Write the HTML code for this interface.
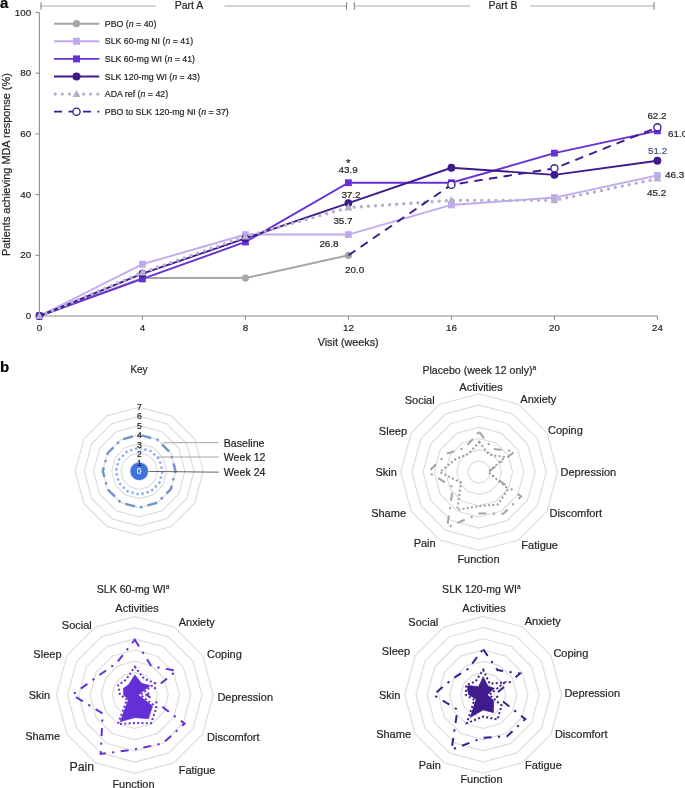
<!DOCTYPE html>
<html><head><meta charset="utf-8"><style>
html,body{margin:0;padding:0;background:#fff;}
body{width:685px;height:788px;overflow:hidden;}
svg{display:block;font-family:"Liberation Sans", sans-serif;will-change:transform;}
</style></head><body>
<svg width="685" height="788" viewBox="0 0 685 788">
<text x="0" y="7.6" font-size="15" font-weight="bold" fill="#000" stroke="#000" stroke-width="0.2">a</text>
<text x="0" y="372" font-size="15" font-weight="bold" fill="#000" stroke="#000" stroke-width="0.2">b</text>
<g stroke="#aaaaaa" stroke-width="1.1" fill="none"><line x1="41" y1="6" x2="155.6" y2="6"/><line x1="224.6" y1="6" x2="346.6" y2="6"/><line x1="354.3" y1="6" x2="470.3" y2="6"/><line x1="530.3" y1="6" x2="654" y2="6"/></g>
<g stroke="#777" stroke-width="1" fill="none"><line x1="41" y1="2.3" x2="41" y2="9.6"/><line x1="346.6" y1="2.3" x2="346.6" y2="9.6"/><line x1="354.3" y1="2.3" x2="354.3" y2="9.6"/><line x1="654" y1="2.3" x2="654" y2="9.6"/></g>
<text x="189" y="9.3" font-size="10.5" text-anchor="middle" fill="#231f20" stroke="#231f20" stroke-width="0.2">Part A</text>
<text x="503" y="9.3" font-size="10.5" text-anchor="middle" fill="#231f20" stroke="#231f20" stroke-width="0.2">Part B</text>
<g stroke="#878787" stroke-width="1" fill="none">
<path d="M35.5 12.50 H39.4 V316.0 H657.40"/>
<line x1="35.5" y1="316.00" x2="39.4" y2="316.00"/>
<line x1="35.5" y1="255.30" x2="39.4" y2="255.30"/>
<line x1="35.5" y1="194.60" x2="39.4" y2="194.60"/>
<line x1="35.5" y1="133.90" x2="39.4" y2="133.90"/>
<line x1="35.5" y1="73.20" x2="39.4" y2="73.20"/>
<line x1="39.40" y1="316.0" x2="39.40" y2="319.8"/>
<line x1="142.40" y1="316.0" x2="142.40" y2="319.8"/>
<line x1="245.40" y1="316.0" x2="245.40" y2="319.8"/>
<line x1="348.40" y1="316.0" x2="348.40" y2="319.8"/>
<line x1="451.40" y1="316.0" x2="451.40" y2="319.8"/>
<line x1="554.40" y1="316.0" x2="554.40" y2="319.8"/>
<line x1="657.40" y1="316.0" x2="657.40" y2="319.8"/>
</g>
<text x="31.2" y="319.10" font-size="9.8" text-anchor="end" fill="#231f20" stroke="#231f20" stroke-width="0.2">0</text>
<text x="31.2" y="258.40" font-size="9.8" text-anchor="end" fill="#231f20" stroke="#231f20" stroke-width="0.2">20</text>
<text x="31.2" y="197.70" font-size="9.8" text-anchor="end" fill="#231f20" stroke="#231f20" stroke-width="0.2">40</text>
<text x="31.2" y="137.00" font-size="9.8" text-anchor="end" fill="#231f20" stroke="#231f20" stroke-width="0.2">60</text>
<text x="31.2" y="76.30" font-size="9.8" text-anchor="end" fill="#231f20" stroke="#231f20" stroke-width="0.2">80</text>
<text x="31.2" y="15.60" font-size="9.8" text-anchor="end" fill="#231f20" stroke="#231f20" stroke-width="0.2">100</text>
<text x="39.40" y="331.2" font-size="9.8" text-anchor="middle" fill="#231f20" stroke="#231f20" stroke-width="0.2">0</text>
<text x="142.40" y="331.2" font-size="9.8" text-anchor="middle" fill="#231f20" stroke="#231f20" stroke-width="0.2">4</text>
<text x="245.40" y="331.2" font-size="9.8" text-anchor="middle" fill="#231f20" stroke="#231f20" stroke-width="0.2">8</text>
<text x="348.40" y="331.2" font-size="9.8" text-anchor="middle" fill="#231f20" stroke="#231f20" stroke-width="0.2">12</text>
<text x="451.40" y="331.2" font-size="9.8" text-anchor="middle" fill="#231f20" stroke="#231f20" stroke-width="0.2">16</text>
<text x="554.40" y="331.2" font-size="9.8" text-anchor="middle" fill="#231f20" stroke="#231f20" stroke-width="0.2">20</text>
<text x="657.40" y="331.2" font-size="9.8" text-anchor="middle" fill="#231f20" stroke="#231f20" stroke-width="0.2">24</text>
<text x="348.2" y="345.9" font-size="10.8" text-anchor="middle" fill="#231f20" stroke="#231f20" stroke-width="0.2">Visit (weeks)</text>
<text transform="translate(9.5 164.6) rotate(-90)" font-size="10.9" text-anchor="middle" fill="#231f20" stroke="#231f20" stroke-width="0.2">Patients achieving MDA response (%)</text>
<polyline points="39.40,316.00 142.40,278.06 245.40,278.06 348.40,255.30" fill="none" stroke="#a9a5a5" stroke-width="1.9"/>
<circle cx="39.40" cy="316.00" r="3.6" fill="#a9a5a5"/>
<circle cx="142.40" cy="278.06" r="3.6" fill="#a9a5a5"/>
<circle cx="245.40" cy="278.06" r="3.6" fill="#a9a5a5"/>
<circle cx="348.40" cy="255.30" r="3.6" fill="#a9a5a5"/>
<polyline points="39.40,316.00 142.40,264.19 245.40,234.57 348.40,234.57 451.40,204.95 554.40,197.57 657.40,175.36" fill="none" stroke="#c1a9f0" stroke-width="1.9"/>
<rect x="36.00" y="312.60" width="6.8" height="6.8" fill="#c1a9f0"/>
<rect x="139.00" y="260.79" width="6.8" height="6.8" fill="#c1a9f0"/>
<rect x="242.00" y="231.17" width="6.8" height="6.8" fill="#c1a9f0"/>
<rect x="345.00" y="231.17" width="6.8" height="6.8" fill="#c1a9f0"/>
<rect x="448.00" y="201.55" width="6.8" height="6.8" fill="#c1a9f0"/>
<rect x="551.00" y="194.17" width="6.8" height="6.8" fill="#c1a9f0"/>
<rect x="654.00" y="171.96" width="6.8" height="6.8" fill="#c1a9f0"/>
<polyline points="39.40,316.00 142.40,278.97 245.40,241.98 348.40,182.76 451.40,182.76 554.40,153.14 657.40,130.93" fill="none" stroke="#6730d6" stroke-width="1.9"/>
<rect x="36.00" y="312.60" width="6.8" height="6.8" fill="#6730d6"/>
<rect x="139.00" y="275.57" width="6.8" height="6.8" fill="#6730d6"/>
<rect x="242.00" y="238.58" width="6.8" height="6.8" fill="#6730d6"/>
<rect x="345.00" y="179.36" width="6.8" height="6.8" fill="#6730d6"/>
<rect x="448.00" y="179.36" width="6.8" height="6.8" fill="#6730d6"/>
<rect x="551.00" y="149.74" width="6.8" height="6.8" fill="#6730d6"/>
<rect x="654.00" y="127.53" width="6.8" height="6.8" fill="#6730d6"/>
<polyline points="39.40,316.00 142.40,273.66 245.40,238.36 348.40,203.07 451.40,167.77 554.40,174.84 657.40,160.73" fill="none" stroke="#3e1a8e" stroke-width="1.9"/>
<circle cx="39.40" cy="316.00" r="3.9" fill="#3e1a8e"/>
<circle cx="142.40" cy="273.66" r="3.9" fill="#3e1a8e"/>
<circle cx="245.40" cy="238.36" r="3.9" fill="#3e1a8e"/>
<circle cx="348.40" cy="203.07" r="3.9" fill="#3e1a8e"/>
<circle cx="451.40" cy="167.77" r="3.9" fill="#3e1a8e"/>
<circle cx="554.40" cy="174.84" r="3.9" fill="#3e1a8e"/>
<circle cx="657.40" cy="160.73" r="3.9" fill="#3e1a8e"/>
<polyline points="39.40,316.00 142.40,272.63 245.40,236.51 348.40,207.62 451.40,200.37 554.40,200.37 657.40,178.70" fill="none" stroke="#b4b0cd" stroke-width="3.4" stroke-linecap="round" stroke-dasharray="0 7.1"/>
<path d="M39.40 311.68 L43.40 318.88 L35.40 318.88Z" fill="#b4b0cd"/>
<path d="M142.40 268.31 L146.40 275.51 L138.40 275.51Z" fill="#b4b0cd"/>
<path d="M245.40 232.19 L249.40 239.39 L241.40 239.39Z" fill="#b4b0cd"/>
<path d="M348.40 203.30 L352.40 210.50 L344.40 210.50Z" fill="#b4b0cd"/>
<path d="M451.40 196.05 L455.40 203.25 L447.40 203.25Z" fill="#b4b0cd"/>
<path d="M554.40 196.05 L558.40 203.25 L550.40 203.25Z" fill="#b4b0cd"/>
<path d="M657.40 174.38 L661.40 181.58 L653.40 181.58Z" fill="#b4b0cd"/>
<polyline points="348.40,255.30 451.40,184.77 554.40,168.35 657.40,127.34" fill="none" stroke="#3e1a8e" stroke-width="1.9" stroke-dasharray="8.5 6.3"/>
<circle cx="451.40" cy="184.77" r="3.6" fill="#fff" stroke="#3e1a8e" stroke-width="1.3"/>
<circle cx="554.40" cy="168.35" r="3.6" fill="#fff" stroke="#3e1a8e" stroke-width="1.3"/>
<circle cx="657.40" cy="127.34" r="3.6" fill="#fff" stroke="#3e1a8e" stroke-width="1.3"/>
<text x="348.2" y="166.5" font-size="11.5" text-anchor="middle" fill="#231f20" stroke="#231f20" stroke-width="0.2">*</text>
<text x="348.2" y="173.0" font-size="9.9" text-anchor="middle" fill="#231f20" stroke="#231f20" stroke-width="0.2">43.9</text>
<text x="351" y="197.5" font-size="9.9" text-anchor="middle" fill="#231f20" stroke="#231f20" stroke-width="0.2">37.2</text>
<text x="343" y="223.8" font-size="9.9" text-anchor="middle" fill="#231f20" stroke="#231f20" stroke-width="0.2">35.7</text>
<text x="329" y="247.1" font-size="9.9" text-anchor="middle" fill="#231f20" stroke="#231f20" stroke-width="0.2">26.8</text>
<text x="354.6" y="273.4" font-size="9.9" text-anchor="middle" fill="#231f20" stroke="#231f20" stroke-width="0.2">20.0</text>
<text x="657" y="118.8" font-size="9.9" text-anchor="middle" fill="#231f20" stroke="#231f20" stroke-width="0.2">62.2</text>
<text x="668" y="136.7" font-size="9.9" text-anchor="start" fill="#231f20" stroke="#231f20" stroke-width="0.2">61.0</text>
<text x="657.6" y="154.2" font-size="9.9" text-anchor="middle" fill="#465579" stroke="#465579" stroke-width="0.2">51.2</text>
<text x="665" y="177.8" font-size="9.9" text-anchor="start" fill="#231f20" stroke="#231f20" stroke-width="0.2">46.3</text>
<text x="656.6" y="195.9" font-size="9.9" text-anchor="middle" fill="#231f20" stroke="#231f20" stroke-width="0.2">45.2</text>
<line x1="54" y1="23.7" x2="99.3" y2="23.7" stroke="#a9a5a5" stroke-width="1.9"/><circle cx="76.50" cy="23.70" r="3.6" fill="#a9a5a5"/>
<line x1="54" y1="41.3" x2="99.3" y2="41.3" stroke="#c1a9f0" stroke-width="1.9"/><rect x="73.00" y="37.80" width="7" height="7" fill="#c1a9f0"/>
<line x1="54" y1="58.9" x2="99.3" y2="58.9" stroke="#6730d6" stroke-width="1.9"/><rect x="73.00" y="55.40" width="7" height="7" fill="#6730d6"/>
<line x1="54" y1="76.5" x2="99.3" y2="76.5" stroke="#3e1a8e" stroke-width="1.9"/><circle cx="76.50" cy="76.50" r="4" fill="#3e1a8e"/>
<line x1="55.2" y1="94.1" x2="99.3" y2="94.1" stroke="#b4b0cd" stroke-width="3.4" stroke-linecap="round" stroke-dasharray="0 7.1"/><path d="M76.50 89.78 L80.50 96.98 L72.50 96.98Z" fill="#b4b0cd"/>
<line x1="54" y1="111.7" x2="99.3" y2="111.7" stroke="#3e1a8e" stroke-width="1.8" stroke-dasharray="8 6.5"/><circle cx="76.50" cy="111.70" r="3.6" fill="#fff" stroke="#3e1a8e" stroke-width="1.3"/>
<text x="104.8" y="26.80" font-size="8.8" fill="#231f20" stroke="#231f20" stroke-width="0.2">PBO (<tspan font-style="italic">n</tspan> = 40)</text>
<text x="104.8" y="44.40" font-size="8.8" fill="#231f20" stroke="#231f20" stroke-width="0.2">SLK 60-mg NI (<tspan font-style="italic">n</tspan> = 41)</text>
<text x="104.8" y="62.00" font-size="8.8" fill="#231f20" stroke="#231f20" stroke-width="0.2">SLK 60-mg WI (<tspan font-style="italic">n</tspan> = 41)</text>
<text x="104.8" y="79.60" font-size="8.8" fill="#231f20" stroke="#231f20" stroke-width="0.2">SLK 120-mg WI (<tspan font-style="italic">n</tspan> = 43)</text>
<text x="104.8" y="97.20" font-size="8.8" fill="#231f20" stroke="#231f20" stroke-width="0.2">ADA ref (<tspan font-style="italic">n</tspan> = 42)</text>
<text x="104.8" y="114.80" font-size="8.8" fill="#231f20" stroke="#231f20" stroke-width="0.2">PBO to SLK 120-mg NI (<tspan font-style="italic">n</tspan> = 37)</text>
<text x="139" y="373" font-size="10" text-anchor="middle" fill="#231f20" stroke="#231f20" stroke-width="0.2">Key</text>
<g fill="none" stroke="#d9d9d9" stroke-width="1.05"><polygon points="139.20,462.06 143.77,463.28 147.12,466.63 148.34,471.20 147.12,475.77 143.77,479.12 139.20,480.34 134.63,479.12 131.28,475.77 130.06,471.20 131.28,466.63 134.63,463.28"/><polygon points="139.20,452.92 148.34,455.37 155.03,462.06 157.48,471.20 155.03,480.34 148.34,487.03 139.20,489.48 130.06,487.03 123.37,480.34 120.92,471.20 123.37,462.06 130.06,455.37"/><polygon points="139.20,443.78 152.91,447.45 162.95,457.49 166.62,471.20 162.95,484.91 152.91,494.95 139.20,498.62 125.49,494.95 115.45,484.91 111.78,471.20 115.45,457.49 125.49,447.45"/><polygon points="139.20,434.64 157.48,439.54 170.86,452.92 175.76,471.20 170.86,489.48 157.48,502.86 139.20,507.76 120.92,502.86 107.54,489.48 102.64,471.20 107.54,452.92 120.92,439.54"/><polygon points="139.20,425.50 162.05,431.62 178.78,448.35 184.90,471.20 178.78,494.05 162.05,510.78 139.20,516.90 116.35,510.78 99.62,494.05 93.50,471.20 99.62,448.35 116.35,431.62"/><polygon points="139.20,416.36 166.62,423.71 186.69,443.78 194.04,471.20 186.69,498.62 166.62,518.69 139.20,526.04 111.78,518.69 91.71,498.62 84.36,471.20 91.71,443.78 111.78,423.71"/><polygon points="139.20,407.22 171.19,415.79 194.61,439.21 203.18,471.20 194.61,503.19 171.19,526.61 139.20,535.18 107.21,526.61 83.79,503.19 75.22,471.20 83.79,439.21 107.21,415.79"/></g>
<polygon points="139.20,434.82 157.39,439.70 170.70,453.01 175.58,471.20 170.70,489.39 157.39,502.70 139.20,507.58 121.01,502.70 107.70,489.39 102.82,471.20 107.70,453.01 121.01,439.70" fill="none" stroke="#7391cf" stroke-width="2.4" stroke-dasharray="10 5.3 2.4 5.3" stroke-dashoffset="20.6"/>
<polygon points="139.20,447.89 150.85,451.02 159.38,459.55 162.51,471.20 159.38,482.85 150.85,491.38 139.20,494.51 127.55,491.38 119.02,482.85 115.89,471.20 119.02,459.55 127.55,451.02" fill="none" stroke="#8db0f2" stroke-width="2.5" stroke-dasharray="2.5 2.7"/>
<circle cx="139.2" cy="471.2" r="8.8" fill="#3d72df"/>
<text x="139.5" y="466.20" font-size="8.6" text-anchor="middle" fill="#222" stroke="#222" stroke-width="0.2">1</text>
<text x="139.5" y="456.85" font-size="8.6" text-anchor="middle" fill="#222" stroke="#222" stroke-width="0.2">2</text>
<text x="139.5" y="447.50" font-size="8.6" text-anchor="middle" fill="#222" stroke="#222" stroke-width="0.2">3</text>
<text x="139.5" y="438.15" font-size="8.6" text-anchor="middle" fill="#222" stroke="#222" stroke-width="0.2">4</text>
<text x="139.5" y="428.80" font-size="8.6" text-anchor="middle" fill="#222" stroke="#222" stroke-width="0.2">5</text>
<text x="139.5" y="419.45" font-size="8.6" text-anchor="middle" fill="#222" stroke="#222" stroke-width="0.2">6</text>
<text x="139.5" y="410.10" font-size="8.6" text-anchor="middle" fill="#222" stroke="#222" stroke-width="0.2">7</text>
<text x="139.2" y="474.20" font-size="8.4" text-anchor="middle" fill="#fff" stroke="#fff" stroke-width="0.2">0</text>
<g stroke-width="0.9"><line x1="163.1" y1="442.7" x2="218.7" y2="442.7" stroke="#9a9a9a"/><line x1="157.4" y1="457" x2="218.7" y2="457" stroke="#9a9a9a"/><line x1="148.6" y1="471.4" x2="218.7" y2="472.2" stroke="#555"/></g>
<text x="223.8" y="446.8" font-size="10.6" text-anchor="start" fill="#231f20" stroke="#231f20" stroke-width="0.2">Baseline</text>
<text x="223.8" y="460.9" font-size="10.6" text-anchor="start" fill="#231f20" stroke="#231f20" stroke-width="0.2">Week 12</text>
<text x="223.8" y="475.8" font-size="10.6" text-anchor="start" fill="#231f20" stroke="#231f20" stroke-width="0.2">Week 24</text>
<text x="479.3" y="373.8" font-size="10.6" text-anchor="middle" fill="#231f20" stroke="#231f20" stroke-width="0.2">Placebo (week 12 only)<tspan font-size="6.5" dy="-4">a</tspan></text>
<g fill="none" stroke="#d9d9d9" stroke-width="1.05"><polygon points="479.10,460.90 484.70,462.40 488.80,466.50 490.30,472.10 488.80,477.70 484.70,481.80 479.10,483.30 473.50,481.80 469.40,477.70 467.90,472.10 469.40,466.50 473.50,462.40"/><polygon points="479.10,449.70 490.30,452.70 498.50,460.90 501.50,472.10 498.50,483.30 490.30,491.50 479.10,494.50 467.90,491.50 459.70,483.30 456.70,472.10 459.70,460.90 467.90,452.70"/><polygon points="479.10,438.50 495.90,443.00 508.20,455.30 512.70,472.10 508.20,488.90 495.90,501.20 479.10,505.70 462.30,501.20 450.00,488.90 445.50,472.10 450.00,455.30 462.30,443.00"/><polygon points="479.10,427.30 501.50,433.30 517.90,449.70 523.90,472.10 517.90,494.50 501.50,510.90 479.10,516.90 456.70,510.90 440.30,494.50 434.30,472.10 440.30,449.70 456.70,433.30"/><polygon points="479.10,416.10 507.10,423.60 527.60,444.10 535.10,472.10 527.60,500.10 507.10,520.60 479.10,528.10 451.10,520.60 430.60,500.10 423.10,472.10 430.60,444.10 451.10,423.60"/><polygon points="479.10,404.90 512.70,413.90 537.30,438.50 546.30,472.10 537.30,505.70 512.70,530.30 479.10,539.30 445.50,530.30 420.90,505.70 411.90,472.10 420.90,438.50 445.50,413.90"/><polygon points="479.10,393.70 518.30,404.20 547.00,432.90 557.50,472.10 547.00,511.30 518.30,540.00 479.10,550.50 439.90,540.00 411.20,511.30 400.70,472.10 411.20,432.90 439.90,404.20"/></g>
<polygon points="479.10,431.78 492.54,448.82 514.99,451.38 488.06,472.10 521.10,496.35 503.18,513.81 479.10,513.54 447.18,527.39 452.91,487.22 428.14,472.10 446.99,453.56 465.04,447.75" fill="none" stroke="#a3a3a3" stroke-width="2" stroke-dasharray="8 6.4 2.2 6.4"/>
<polygon points="479.10,441.86 489.18,454.64 505.09,457.09 488.28,472.10 508.20,488.90 497.80,504.50 479.10,506.04 457.26,509.93 460.96,482.57 439.90,472.10 456.11,458.83 468.63,453.96" fill="none" stroke="#9d9d9d" stroke-width="2" stroke-dasharray="2 2.3"/>
<text x="481.0" y="390.8" font-size="11" text-anchor="middle" fill="#231f20" stroke="#231f20" stroke-width="0.2">Activities</text>
<text x="520.3" y="402.8" font-size="11" text-anchor="start" fill="#231f20" stroke="#231f20" stroke-width="0.2">Anxiety</text>
<text x="548.0" y="433.6" font-size="11" text-anchor="start" fill="#231f20" stroke="#231f20" stroke-width="0.2">Coping</text>
<text x="560.5" y="476.4" font-size="11" text-anchor="start" fill="#231f20" stroke="#231f20" stroke-width="0.2">Depression</text>
<text x="549.5" y="516.6" font-size="11" text-anchor="start" fill="#231f20" stroke="#231f20" stroke-width="0.2">Discomfort</text>
<text x="521.3" y="549.4" font-size="11" text-anchor="start" fill="#231f20" stroke="#231f20" stroke-width="0.2">Fatigue</text>
<text x="478.5" y="563.0" font-size="11" text-anchor="middle" fill="#231f20" stroke="#231f20" stroke-width="0.2">Function</text>
<text x="435.7" y="546.8" font-size="11" text-anchor="end" fill="#231f20" stroke="#231f20" stroke-width="0.2">Pain</text>
<text x="406.0" y="516.6" font-size="11" text-anchor="end" fill="#231f20" stroke="#231f20" stroke-width="0.2">Shame</text>
<text x="396.9" y="476.4" font-size="11" text-anchor="end" fill="#231f20" stroke="#231f20" stroke-width="0.2">Skin</text>
<text x="407.0" y="434.6" font-size="11" text-anchor="end" fill="#231f20" stroke="#231f20" stroke-width="0.2">Sleep</text>
<text x="434.7" y="404.4" font-size="11" text-anchor="end" fill="#231f20" stroke="#231f20" stroke-width="0.2">Social</text>
<text x="133" y="592.7" font-size="10.6" text-anchor="middle" fill="#231f20" stroke="#231f20" stroke-width="0.2">SLK 60-mg WI<tspan font-size="6.5" dy="-4">a</tspan></text>
<g fill="none" stroke="#d9d9d9" stroke-width="1.05"><polygon points="134.80,683.70 140.40,685.20 144.50,689.30 146.00,694.90 144.50,700.50 140.40,704.60 134.80,706.10 129.20,704.60 125.10,700.50 123.60,694.90 125.10,689.30 129.20,685.20"/><polygon points="134.80,672.50 146.00,675.50 154.20,683.70 157.20,694.90 154.20,706.10 146.00,714.30 134.80,717.30 123.60,714.30 115.40,706.10 112.40,694.90 115.40,683.70 123.60,675.50"/><polygon points="134.80,661.30 151.60,665.80 163.90,678.10 168.40,694.90 163.90,711.70 151.60,724.00 134.80,728.50 118.00,724.00 105.70,711.70 101.20,694.90 105.70,678.10 118.00,665.80"/><polygon points="134.80,650.10 157.20,656.10 173.60,672.50 179.60,694.90 173.60,717.30 157.20,733.70 134.80,739.70 112.40,733.70 96.00,717.30 90.00,694.90 96.00,672.50 112.40,656.10"/><polygon points="134.80,638.90 162.80,646.40 183.30,666.90 190.80,694.90 183.30,722.90 162.80,743.40 134.80,750.90 106.80,743.40 86.30,722.90 78.80,694.90 86.30,666.90 106.80,646.40"/><polygon points="134.80,627.70 168.40,636.70 193.00,661.30 202.00,694.90 193.00,728.50 168.40,753.10 134.80,762.10 101.20,753.10 76.60,728.50 67.60,694.90 76.60,661.30 101.20,636.70"/><polygon points="134.80,616.50 174.00,627.00 202.70,655.70 213.20,694.90 202.70,734.10 174.00,762.80 134.80,773.30 95.60,762.80 66.90,734.10 56.40,694.90 66.90,655.70 95.60,627.00"/></g>
<polygon points="134.80,674.85 141.58,683.16 150.80,685.66 140.29,694.90 152.74,705.26 148.52,718.66 134.80,717.64 119.12,722.06 127.33,699.21 123.60,694.90 123.45,688.35 128.75,684.42" fill="#6430d5" stroke="#6430d5" stroke-width="0.6" stroke-linejoin="round"/>
<polygon points="134.80,666.68 144.10,678.80 154.97,683.25 140.40,694.90 156.53,707.44 151.10,723.13 134.80,723.12 118.00,724.00 127.04,699.38 119.90,694.90 118.12,685.27 126.06,679.77" fill="none" stroke="#fff" stroke-width="2.1"/><polygon points="134.80,666.68 144.10,678.80 154.97,683.25 140.40,694.90 156.53,707.44 151.10,723.13 134.80,723.12 118.00,724.00 127.04,699.38 119.90,694.90 118.12,685.27 126.06,679.77" fill="none" stroke="#6430d5" stroke-width="2" stroke-dasharray="2 2.3"/>
<polygon points="134.80,639.68 151.38,666.19 176.51,670.82 146.67,694.90 184.56,723.63 162.80,743.40 134.80,749.33 100.70,753.97 102.69,713.44 72.30,694.90 99.88,674.74 116.49,663.18" fill="none" stroke="#6430d5" stroke-width="2" stroke-dasharray="8 6.4 2.2 6.4"/>
<text x="137.0" y="612.2" font-size="11" text-anchor="middle" fill="#231f20" stroke="#231f20" stroke-width="0.2">Activities</text>
<text x="178.7" y="625.6" font-size="11" text-anchor="start" fill="#231f20" stroke="#231f20" stroke-width="0.2">Anxiety</text>
<text x="207.0" y="658.4" font-size="11" text-anchor="start" fill="#231f20" stroke="#231f20" stroke-width="0.2">Coping</text>
<text x="217.4" y="701.0" font-size="11" text-anchor="start" fill="#231f20" stroke="#231f20" stroke-width="0.2">Depression</text>
<text x="207.0" y="740.7" font-size="11" text-anchor="start" fill="#231f20" stroke="#231f20" stroke-width="0.2">Discomfort</text>
<text x="178.7" y="773.5" font-size="11" text-anchor="start" fill="#231f20" stroke="#231f20" stroke-width="0.2">Fatigue</text>
<text x="133.5" y="787.9" font-size="11" text-anchor="middle" fill="#231f20" stroke="#231f20" stroke-width="0.2">Function</text>
<text x="94.2" y="770.9" font-size="12.3" text-anchor="end" fill="#231f20" stroke="#231f20" stroke-width="0.2">Pain</text>
<text x="60.0" y="739.8" font-size="11" text-anchor="end" fill="#231f20" stroke="#231f20" stroke-width="0.2">Shame</text>
<text x="50.1" y="699.0" font-size="11" text-anchor="end" fill="#231f20" stroke="#231f20" stroke-width="0.2">Skin</text>
<text x="61.5" y="658.4" font-size="11" text-anchor="end" fill="#231f20" stroke="#231f20" stroke-width="0.2">Sleep</text>
<text x="91.8" y="628.6" font-size="11" text-anchor="end" fill="#231f20" stroke="#231f20" stroke-width="0.2">Social</text>
<text x="481.3" y="592.7" font-size="10.6" text-anchor="middle" fill="#231f20" stroke="#231f20" stroke-width="0.2">SLK 120-mg WI<tspan font-size="6.5" dy="-4">a</tspan></text>
<g fill="none" stroke="#d9d9d9" stroke-width="1.05"><polygon points="483.20,683.60 488.80,685.10 492.90,689.20 494.40,694.80 492.90,700.40 488.80,704.50 483.20,706.00 477.60,704.50 473.50,700.40 472.00,694.80 473.50,689.20 477.60,685.10"/><polygon points="483.20,672.40 494.40,675.40 502.60,683.60 505.60,694.80 502.60,706.00 494.40,714.20 483.20,717.20 472.00,714.20 463.80,706.00 460.80,694.80 463.80,683.60 472.00,675.40"/><polygon points="483.20,661.20 500.00,665.70 512.30,678.00 516.80,694.80 512.30,711.60 500.00,723.90 483.20,728.40 466.40,723.90 454.10,711.60 449.60,694.80 454.10,678.00 466.40,665.70"/><polygon points="483.20,650.00 505.60,656.00 522.00,672.40 528.00,694.80 522.00,717.20 505.60,733.60 483.20,739.60 460.80,733.60 444.40,717.20 438.40,694.80 444.40,672.40 460.80,656.00"/><polygon points="483.20,638.80 511.20,646.30 531.70,666.80 539.20,694.80 531.70,722.80 511.20,743.30 483.20,750.80 455.20,743.30 434.70,722.80 427.20,694.80 434.70,666.80 455.20,646.30"/><polygon points="483.20,627.60 516.80,636.60 541.40,661.20 550.40,694.80 541.40,728.40 516.80,753.00 483.20,762.00 449.60,753.00 425.00,728.40 416.00,694.80 425.00,661.20 449.60,636.60"/><polygon points="483.20,616.40 522.40,626.90 551.10,655.60 561.60,694.80 551.10,734.00 522.40,762.70 483.20,773.20 444.00,762.70 415.30,734.00 404.80,694.80 415.30,655.60 444.00,626.90"/></g>
<polygon points="483.20,676.66 488.13,686.26 494.45,688.30 487.90,694.80 493.68,700.85 493.50,712.65 483.20,709.92 470.04,717.59 475.44,699.28 468.64,694.80 466.52,685.17 478.55,686.75" fill="#3f1c8e" stroke="#3f1c8e" stroke-width="0.6" stroke-linejoin="round"/>
<polygon points="483.20,669.71 489.64,683.65 504.54,682.48 489.36,694.80 501.63,705.44 497.48,719.53 483.20,716.53 466.85,723.12 474.47,699.84 465.84,694.80 466.23,685.00 475.53,681.51" fill="none" stroke="#fff" stroke-width="2.1"/><polygon points="483.20,669.71 489.64,683.65 504.54,682.48 489.36,694.80 501.63,705.44 497.48,719.53 483.20,716.53 466.85,723.12 474.47,699.84 465.84,694.80 466.23,685.00 475.53,681.51" fill="none" stroke="#3f1c8e" stroke-width="2" stroke-dasharray="2 2.3"/>
<polygon points="483.20,649.22 497.48,670.07 520.06,673.52 494.62,694.80 525.30,719.10 507.11,736.22 483.20,737.81 451.56,749.60 457.50,709.64 433.36,694.80 453.81,677.83 468.19,668.81" fill="none" stroke="#3f1c8e" stroke-width="2" stroke-dasharray="8 6.4 2.2 6.4"/>
<text x="484.0" y="611.7" font-size="11" text-anchor="middle" fill="#231f20" stroke="#231f20" stroke-width="0.2">Activities</text>
<text x="524.7" y="624.6" font-size="11" text-anchor="start" fill="#231f20" stroke="#231f20" stroke-width="0.2">Anxiety</text>
<text x="553.4" y="657.4" font-size="11" text-anchor="start" fill="#231f20" stroke="#231f20" stroke-width="0.2">Coping</text>
<text x="564.4" y="696.6" font-size="11" text-anchor="start" fill="#231f20" stroke="#231f20" stroke-width="0.2">Depression</text>
<text x="554.9" y="738.3" font-size="11" text-anchor="start" fill="#231f20" stroke="#231f20" stroke-width="0.2">Discomfort</text>
<text x="525.1" y="769.0" font-size="11" text-anchor="start" fill="#231f20" stroke="#231f20" stroke-width="0.2">Fatigue</text>
<text x="481.5" y="783.4" font-size="11" text-anchor="middle" fill="#231f20" stroke="#231f20" stroke-width="0.2">Function</text>
<text x="440.8" y="768.5" font-size="11" text-anchor="end" fill="#231f20" stroke="#231f20" stroke-width="0.2">Pain</text>
<text x="411.0" y="737.8" font-size="11" text-anchor="end" fill="#231f20" stroke="#231f20" stroke-width="0.2">Shame</text>
<text x="400.4" y="699.0" font-size="11" text-anchor="end" fill="#231f20" stroke="#231f20" stroke-width="0.2">Skin</text>
<text x="410.0" y="655.4" font-size="11" text-anchor="end" fill="#231f20" stroke="#231f20" stroke-width="0.2">Sleep</text>
<text x="438.3" y="625.6" font-size="11" text-anchor="end" fill="#231f20" stroke="#231f20" stroke-width="0.2">Social</text>
</svg></body></html>
